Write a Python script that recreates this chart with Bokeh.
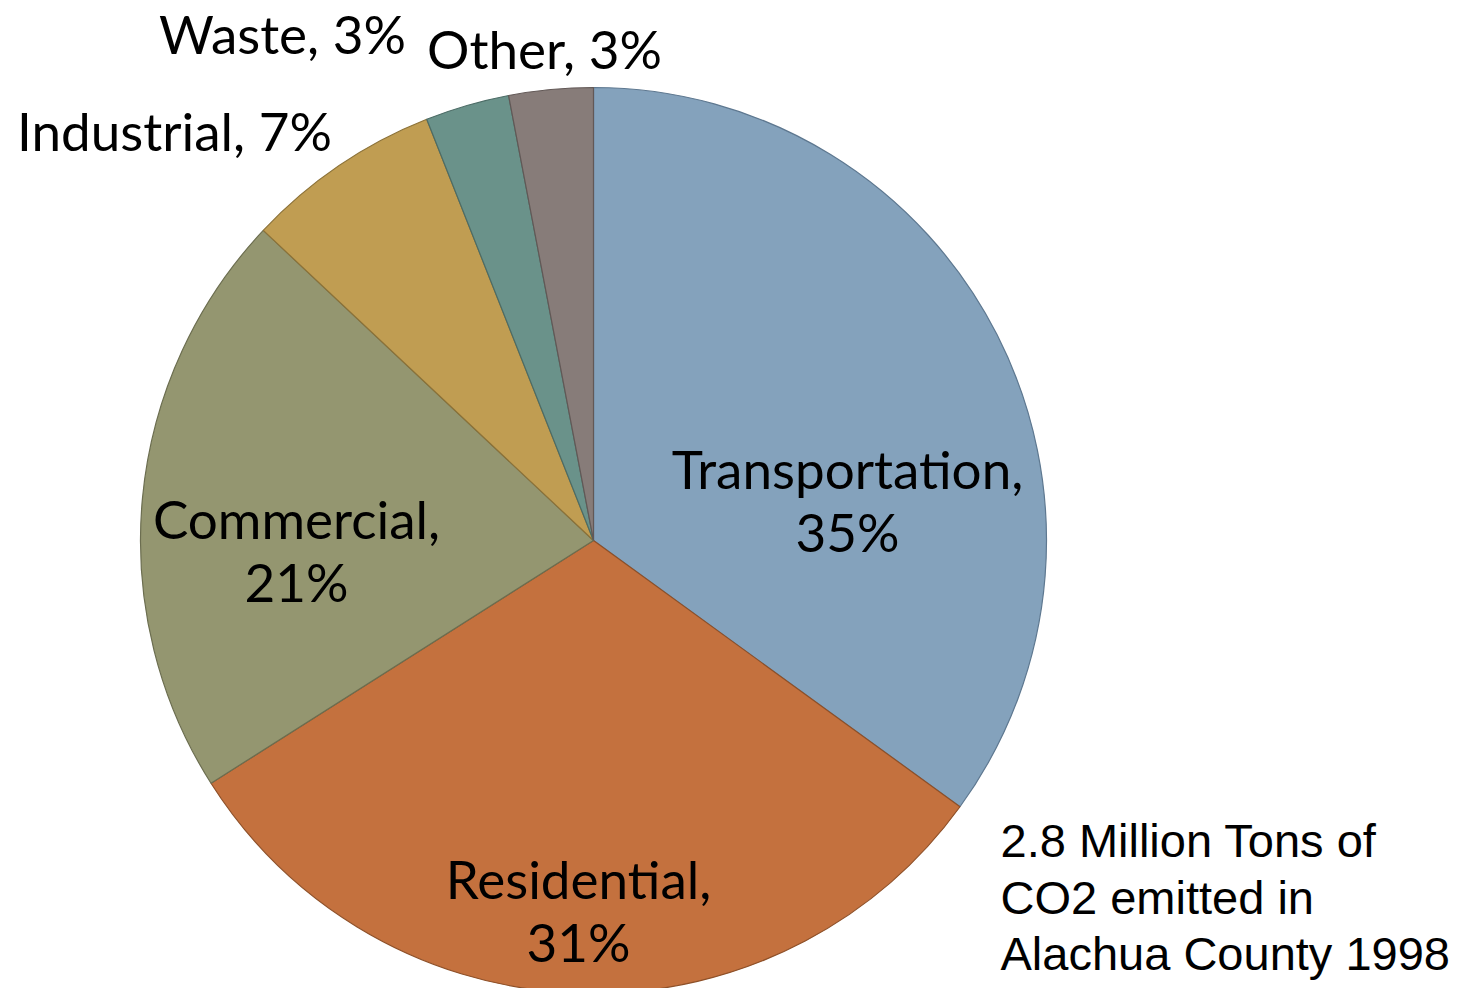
import math
from bokeh.plotting import figure
from bokeh.models import Range1d, ColumnDataSource
from bokeh.core.properties import value
from bokeh.embed import file_html
from bokeh.resources import INLINE

# ---- data ----
categories = ["Transportation", "Residential", "Commercial", "Industrial", "Waste", "Other"]
shares = [35, 31, 21, 7, 3, 3]
note_lines = ["2.8 Million Tons of", "CO2 emitted in", "Alachua County 1998"]

# ---- styles / layout ----
fills = ["#84A2BC", "#C4713E", "#949670", "#C09D52", "#6A928A", "#877C79"]
edges = ["#5E7890", "#8E5028", "#6C6E50", "#8C7238", "#4C6C66", "#625856"]
W, H = 1462, 988
cx, cy, R = 593, -540, 453
# label anchor (screen px) and whether two-line
label_pos = [(847, -499), (578, -909), (296, -549), (174, -130), (282, -33), (544, -48)]
two_line = [True, True, True, False, False, False]

total = sum(shares)
starts, ends = [], []
acc = 0.0
for s in shares:
    starts.append(math.pi / 2 - 2 * math.pi * acc / total)
    acc += s
    ends.append(math.pi / 2 - 2 * math.pi * acc / total)

src = ColumnDataSource(dict(cat=categories, start=starts, end=ends, fill=fills, edge=edges))

p = figure(width=W, height=H, output_backend="svg", toolbar_location=None,
           x_range=Range1d(0, W), y_range=Range1d(-H, 0),
           x_axis_type=None, y_axis_type=None, min_border=0,
           outline_line_color=None, background_fill_color="white")
p.grid.visible = False

p.wedge(x=cx, y=cy, radius=R, start_angle="start", end_angle="end", direction="clock",
        fill_color="fill", line_color="edge", line_width=1.2, source=src)

texts = []
for c, s, tl in zip(categories, shares, two_line):
    texts.append(f"{c},\n{s}%" if tl else f"{c}, {s}%")
lsrc = ColumnDataSource(dict(x=[q[0] for q in label_pos], y=[q[1] for q in label_pos], t=texts))
p.text(x="x", y="y", text="t", source=lsrc, text_align="center", text_baseline="middle",
       text_font=value("Lato"), text_font_size="53px", text_color="black",
       text_line_height=1.0)

nsrc = ColumnDataSource(dict(x=[1000] * 3, y=[-840, -897, -953], t=note_lines))
p.text(x="x", y="y", text="t", source=nsrc, text_align="left", text_baseline="middle",
       text_font=value("Liberation Sans"), text_font_size="47px", text_color="black")

open("out.html", "w").write(file_html(p, INLINE))
